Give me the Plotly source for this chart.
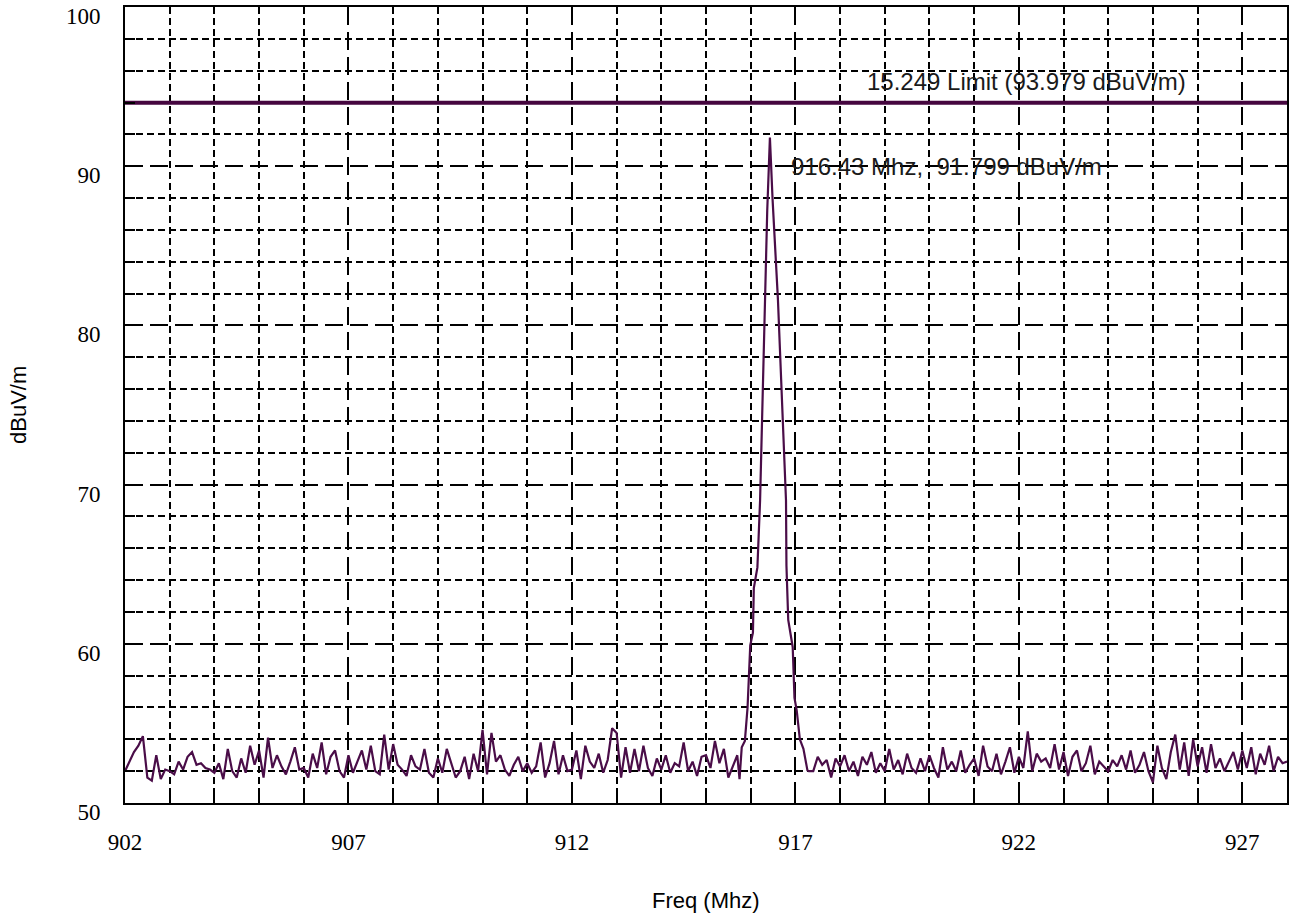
import numpy as np
import plotly.graph_objects as go

# ---------------- data ----------------
# Low-side noise floor: 902.0 .. 915.7 MHz, 0.1 MHz step
noise_lo_start = 902.0
noise_lo_level = [
    52.0, 52.6, 53.2, 53.6, 54.2, 51.6, 51.4, 53.0, 51.5, 52.1,
    52.0, 51.8, 52.6, 52.1, 52.9, 53.2, 52.4, 52.5, 52.2, 52.1,
    51.9, 52.5, 51.5, 53.4, 52.0, 51.6, 52.8, 51.9, 53.6, 52.4,
    53.3, 51.6, 54.1, 52.2, 53.0, 52.3, 51.8, 52.6, 53.5, 52.1,
    52.2, 51.6, 53.1, 52.2, 53.8, 51.8, 52.9, 53.3, 52.0, 51.6,
    53.0, 51.9, 52.6, 53.3, 52.1, 53.6, 52.0, 51.8, 54.3, 52.1,
    53.7, 52.4, 52.1, 51.7, 53.0, 52.3, 52.1, 53.4, 51.9, 51.6,
    52.8, 51.9, 53.4, 52.5, 51.6, 52.0, 52.9, 51.5, 53.1, 52.0,
    54.6, 51.8, 54.4, 52.6, 53.0, 52.1, 51.7, 52.4, 52.9, 52.0,
    52.5, 51.9, 52.3, 53.8, 51.6, 52.5, 53.9, 51.8, 53.0, 52.0,
    52.1, 53.3, 51.5, 53.6, 52.6, 52.2, 53.1, 51.9, 52.7, 54.7,
    54.4, 51.6, 53.5, 51.9, 53.4, 52.0, 53.6, 52.2, 51.7, 52.8,
    52.1, 53.0, 51.9, 52.5, 52.3, 53.8, 52.0, 52.6, 51.7, 52.9,
    53.0, 52.2, 53.9, 52.5, 53.4, 51.6, 52.3, 53.0,
]

# Emission peak
peak_freq = [915.75, 915.80, 915.87, 915.93, 915.99, 916.05, 916.07, 916.15,
             916.21, 916.26, 916.32, 916.37, 916.43, 916.49, 916.61, 916.70,
             916.79, 916.80, 916.84, 916.94, 916.98, 917.03, 917.10, 917.18,
             917.27]
peak_level = [51.5, 53.5, 53.9, 56.0, 59.9, 60.7, 63.5, 64.8,
              69.0, 75.3, 81.6, 87.2, 91.799, 87.9, 81.6, 75.3,
              69.0, 64.9, 61.5, 59.8, 56.6, 55.8, 54.0, 53.4,
              52.05]

# High-side noise floor: 917.3 .. 928.0 MHz, 0.1 MHz step
noise_hi_start = 917.3
noise_hi_level = [
    52.0, 52.0, 52.9, 52.4, 52.7, 51.6, 52.8,
    52.3, 53.0, 52.0, 52.6, 51.7, 52.9, 52.4, 53.2, 51.9, 52.5,
    52.0, 53.4, 52.1, 52.7, 51.8, 53.1, 52.2, 51.9, 52.8, 52.0,
    53.0, 52.2, 51.6, 53.5, 52.1, 52.6, 52.0, 53.3, 51.9, 52.4,
    52.8, 51.7, 53.6, 52.3, 52.0, 53.1, 51.8, 52.6, 53.5, 51.9,
    52.9, 52.2, 54.5, 52.0, 53.1, 52.6, 52.8, 52.2, 53.7, 52.1,
    53.2, 51.7, 52.9, 53.3, 52.0, 52.5, 53.6, 51.8, 52.6, 52.3,
    52.0, 52.7, 52.3, 53.0, 52.1, 53.3, 51.9, 52.4, 53.2, 52.0,
    51.3, 53.6, 52.2, 51.5, 53.2, 54.3, 52.1, 53.8, 51.7, 54.0,
    52.3, 53.5, 51.9, 53.7, 52.2, 52.8, 52.0, 52.6, 53.2, 52.1,
    53.3, 52.2, 53.5, 51.8, 53.1, 52.4, 53.6, 52.0, 52.9, 52.5,
    52.6,
]
step = 0.1

limit_level = 93.979
limit_label = "15.249 Limit (93.979 dBuV/m)"
marker_label = "916.43 Mhz,  91.799 dBuV/m"
x_range = [902, 928]
y_range = [50, 100]

# ---------------- assemble ----------------
lo_freq = noise_lo_start + step * np.arange(len(noise_lo_level))
hi_freq = noise_hi_start + step * np.arange(len(noise_hi_level))
freq = np.concatenate([lo_freq, peak_freq, hi_freq])
level = np.concatenate([noise_lo_level, peak_level, noise_hi_level])

TRACE = "#4a0d48"
LIMIT = "#45063f"

fig = go.Figure()
fig.add_trace(go.Scatter(x=x_range, y=[limit_level, limit_level], mode="lines",
                         line=dict(color=LIMIT, width=4), showlegend=False,
                         hoverinfo="skip"))
fig.add_trace(go.Scatter(x=freq, y=level, mode="lines",
                         line=dict(color=TRACE, width=2.2), showlegend=False))

tick_font = dict(family="Liberation Serif", size=23, color="black")
axis_common = dict(
    showline=True, linecolor="black", linewidth=2, mirror=True,
    showgrid=True, gridcolor="black", gridwidth=2, griddash="18px,7px",
    ticks="inside", ticklen=12, tickwidth=2, tickcolor="black",
    zeroline=False, tickfont=tick_font, ticklabeloverflow="allow",
)

fig.update_xaxes(range=x_range, tick0=902, dtick=5,
                 ticklabelstandoff=17,
                 minor=dict(tick0=902, dtick=1, showgrid=True, gridcolor="black",
                            gridwidth=2, griddash="7px,4px", ticks="inside",
                            ticklen=10, tickwidth=2, tickcolor="black"),
                 **axis_common)
fig.update_yaxes(range=y_range, tick0=50, dtick=10,
                 ticklabelstandoff=18, ticklabelshift=9,
                 minor=dict(tick0=50, dtick=2, showgrid=True, gridcolor="black",
                            gridwidth=2, griddash="7px,4px", ticks="inside",
                            ticklen=10, tickwidth=2, tickcolor="black"),
                 **axis_common)

ann_font = dict(family="Liberation Sans", size=24, color="#1a1a1a")
fig.add_annotation(x=918.55, y=95.3, text=limit_label, showarrow=False,
                   xanchor="left", yanchor="middle", font=ann_font)
fig.add_annotation(x=916.86, y=90.0, text=marker_label, showarrow=False,
                   xanchor="left", yanchor="middle", font=ann_font)

title_font = dict(family="Liberation Sans", size=22, color="black")
fig.add_annotation(xref="paper", yref="paper", x=0.5, y=-0.1219,
                   text="Freq (Mhz)", showarrow=False,
                   xanchor="center", yanchor="middle", font=title_font)
fig.add_annotation(xref="paper", yref="paper", x=-107 / 1162, y=0.5,
                   text="dBuV/m", showarrow=False, textangle=-90,
                   xanchor="center", yanchor="middle", font=title_font)

fig.update_layout(
    width=1291, height=919,
    margin=dict(l=125, r=4, t=7, b=116, autoexpand=False),
    paper_bgcolor="white", plot_bgcolor="white",
    showlegend=False,
)

fig.write_html("out.html")
